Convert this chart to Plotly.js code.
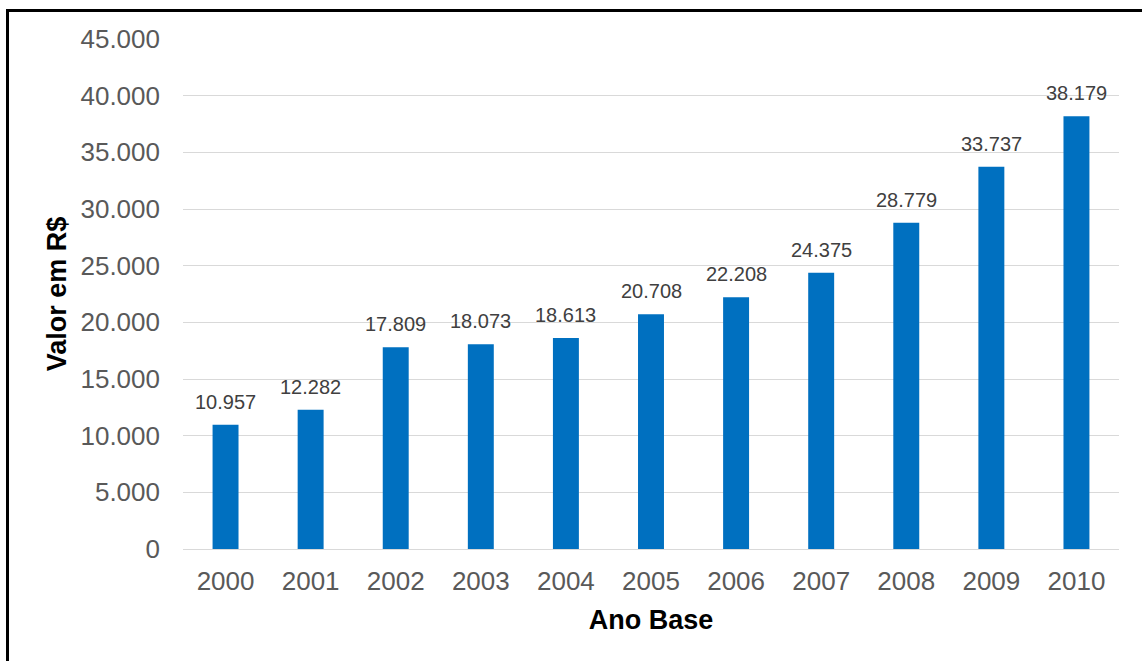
<!DOCTYPE html>
<html>
<head>
<meta charset="utf-8">
<script src="https://cdn.plot.ly/plotly-3.0.1.min.js"></script>
<style>
  html, body { margin: 0; padding: 0; background: #fff; }
  #wrap { position: relative; width: 1142px; height: 661px; overflow: hidden; }
  #chart { position: absolute; left: 0; top: 0; width: 1142px; height: 661px; }
  #frame { position: absolute; left: 6px; top: 9px; width: 1134px; height: 700px;
           border-left: 3px solid #000; border-top: 3px solid #000; pointer-events: none; }
</style>
</head>
<body>
<div id="wrap">
  <div id="chart"></div>
  <div id="frame"></div>
</div>
<script>
const years = [2000, 2001, 2002, 2003, 2004, 2005, 2006, 2007, 2008, 2009, 2010];
const values = [10957, 12282, 17809, 18073, 18613, 20708, 22208, 24375, 28779, 33737, 38179];
const yTicks = [0, 5000, 10000, 15000, 20000, 25000, 30000, 35000, 40000, 45000];

const fmt = v => v.toString().replace(/\B(?=(\d{3})+(?!\d))/g, '.');

const trace = {
  type: 'bar',
  x: years,
  y: values,
  width: 0.305,
  marker: { color: '#0070C0' },
  hoverinfo: 'skip'
};

const annotations = years.map((yr, i) => ({
  x: yr, y: values[i], xref: 'x', yref: 'y',
  text: fmt(values[i]), showarrow: false,
  yanchor: 'bottom', yshift: 10,
  font: { family: 'Liberation Sans, Arial, sans-serif', size: 20, color: '#404040' }
}));

const layout = {
  width: 1142, height: 661,
  margin: { l: 183, r: 23, t: 39, b: 112, pad: 0 },
  paper_bgcolor: '#ffffff', plot_bgcolor: '#ffffff',
  showlegend: false,
  font: { family: 'Liberation Sans, Arial, sans-serif', color: '#595959' },
  xaxis: {
    type: 'linear',
    range: [years[0] - 0.5, years[years.length - 1] + 0.5],
    tickvals: years,
    ticktext: years.map(String),
    tickfont: { size: 26, color: '#595959' },
    showgrid: false, zeroline: false,
    showline: true, linecolor: '#d9d9d9', linewidth: 1,
    ticks: '', ticklabelstandoff: 9,
    title: { text: 'Ano Base', font: { size: 27, color: '#000000', weight: 'bold' }, standoff: 14 }
  },
  yaxis: {
    range: [0, 45000],
    tickvals: yTicks,
    ticktext: yTicks.map(fmt),
    tickfont: { size: 26, color: '#595959' },
    showgrid: true, gridcolor: '#d9d9d9', gridwidth: 1,
    zeroline: true, zerolinecolor: '#d9d9d9',
    showline: false, ticks: '', ticklabelstandoff: 22,
    title: { text: 'Valor em R$', font: { size: 27, color: '#000000', weight: 'bold' }, standoff: 6 }
  },
  annotations: annotations
};

Plotly.newPlot('chart', [trace], layout, { displayModeBar: false, staticPlot: true });
</script>
</body>
</html>
